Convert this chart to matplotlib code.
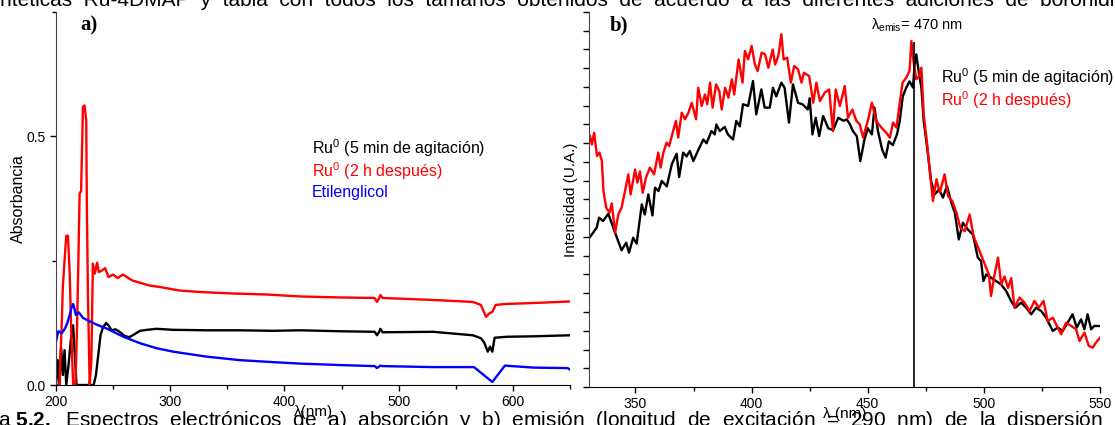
import numpy as np
import matplotlib
matplotlib.use('Agg')
import matplotlib.pyplot as plt
from matplotlib.ticker import MultipleLocator, NullFormatter

plt.rcParams['font.family'] = ['Liberation Sans', 'DejaVu Sans']
plt.rcParams['mathtext.fontset'] = 'custom'
plt.rcParams['mathtext.rm'] = 'Liberation Sans'
plt.rcParams['mathtext.it'] = 'Liberation Sans:italic'
plt.rcParams['mathtext.bf'] = 'Liberation Sans:bold'

# ---- a) absorption spectra ----
abs_wl_black = [200, 201.5, 203, 204.5, 206, 207.5, 209, 211, 213, 215, 216.5, 218, 233, 235, 237,
                239, 241, 244, 246.5, 248.6, 252, 255.7, 260, 264, 268, 273.6, 280, 288, 302, 332,
                361, 390, 414, 450, 479, 481, 483, 484, 486, 530, 565, 572, 575, 578, 580, 582,
                584, 594.6, 620, 650]
abs_black = [0.0, 0.05, 0.0, 0.075, 0.02, 0.07, 0.0, 0.04, 0.09, 0.12, 0.06, 0.0, 0.0, 0.02, 0.06,
             0.10, 0.115, 0.125, 0.118, 0.11, 0.112, 0.107, 0.099, 0.096, 0.101, 0.109, 0.111, 0.113, 0.111, 0.110,
             0.110, 0.109, 0.110, 0.108, 0.107, 0.100, 0.107, 0.113, 0.106, 0.107, 0.100, 0.094, 0.085, 0.067, 0.077, 0.067,
             0.095, 0.097, 0.098, 0.100]

abs_wl_red = [200, 203, 205, 206, 207.5, 209, 210.5, 212, 213.5, 215, 217, 218.5, 219.5, 220.7, 222,
              223.6, 225, 226.5, 227, 228, 229.5, 231, 232.3, 234, 236, 237.5, 240, 243, 246, 250,
              254, 258.6, 267, 282, 291, 308, 326, 355, 384, 414, 450, 479, 481, 483, 484, 486,
              530, 565, 572, 576.5, 579.4, 582, 585, 594, 620, 650]
abs_red = [0.0, 0.0, 0.12, 0.197, 0.25, 0.30, 0.30, 0.225, 0.10, 0.0, 0.0, 0.12, 0.236, 0.385, 0.39,
           0.559, 0.562, 0.532, 0.37, 0.18, 0.0, 0.05, 0.244, 0.224, 0.246, 0.227, 0.23, 0.235, 0.217, 0.222,
           0.215, 0.222, 0.21, 0.20, 0.197, 0.19, 0.187, 0.184, 0.182, 0.178, 0.176, 0.175, 0.167, 0.175, 0.181, 0.175,
           0.171, 0.167, 0.161, 0.137, 0.144, 0.147, 0.161, 0.163, 0.165, 0.168]

abs_wl_blue = [200, 202, 205, 208, 210, 212, 213.5, 215, 216, 217.4, 220, 223.6, 229.5, 236, 244,
               259, 273.6, 288, 302.7, 332, 361, 390, 414, 450, 479, 481, 484, 486, 530, 566,
               582, 593, 618, 648, 650]
abs_blue = [0.087, 0.108, 0.104, 0.114, 0.125, 0.141, 0.155, 0.163, 0.155, 0.141, 0.146, 0.135, 0.128, 0.121, 0.114,
            0.097, 0.084, 0.074, 0.067, 0.057, 0.050, 0.046, 0.043, 0.040, 0.038, 0.034, 0.039, 0.038, 0.036, 0.036,
            0.006, 0.039, 0.035, 0.034, 0.031]

# ---- b) emission spectra (arbitrary units) ----
em_wl_black = [330.4, 333.3, 334.3, 336, 338.3, 341.2, 344, 346, 347.2, 349, 350.5, 352.7, 354, 355.5,
               357.3, 358.4, 359.9, 361.3, 363.5, 365.6, 367.7, 368.8, 370.5, 372, 373.4, 374.9, 377,
               379.2, 380.6, 382.7, 384.1, 384.8, 386.3, 388.4, 389.8, 392, 393.4, 394.9, 396.3, 398.5,
               400.6, 402, 404.2, 405.6, 407.8, 409.2, 410.6, 412.8, 414.2, 416.1, 417.8, 420, 422,
               424.2, 425, 426.2, 427.6, 429.1, 430.8, 433, 435.1, 437.3, 439.5, 441, 442.4, 443.6,
               445.3, 446.8, 448.6, 450, 451.8, 452.9, 454.4, 456.2, 457.7, 459.1, 460.8, 462.6, 463.8,
               465.1, 466.6, 468, 469.5, 470.2, 470.9, 472.1, 473.1, 474.1, 475.6, 477.3, 478.8, 480.7,
               482.4, 484.1, 486, 487.5, 489.2, 491, 493.1, 495.3, 497.4, 498.8, 499.8, 501, 503.1,
               505.3, 507.4, 509.6, 511.7, 513.6, 516.1, 518.2, 520.4, 522.5, 524.7, 526.8, 529.7,
               531.8, 534, 536.1, 538.2, 540, 541.9, 543.3, 544.7, 546.2, 547.6, 550]
em_black = [8.0, 8.5, 9.03, 8.85, 9.24, 8.23, 7.29, 7.7, 7.16, 7.96, 7.65, 9.74, 9.2, 10.27,
            9.15, 10.63, 10.45, 10.99, 10.7, 11.87, 12.44, 11.2, 12.5, 12.3, 12.59, 12.05, 12.63,
            13.2, 13.0, 13.65, 13.47, 14.0, 13.65, 13.87, 13.47, 13.2, 14.19, 13.9, 15.08, 14.99,
            16.32, 14.54, 15.87, 14.9, 14.9, 15.96, 15.5, 16.23, 15.96, 14.1, 16.14, 15.16, 15.07,
            14.8, 15.4, 13.47, 14.36, 13.38, 14.45, 13.8, 13.7, 14.36, 14.2, 14.27, 14.0, 13.65,
            13.38, 12.05, 13.2, 13.8, 13.47, 14.9, 13.65, 12.67, 12.23, 13.1, 12.9, 13.47, 14.2,
            15.5, 15.97, 16.3, 15.97, 17.2, 17.74, 16.7, 15.97, 14.19, 12.76, 10.99, 10.27, 10.54,
            10.1, 10.72, 9.83, 9.3, 7.87, 8.76, 8.4, 8.13, 6.9, 6.72, 5.65, 6.0, 5.83,
            5.65, 5.47, 5.12, 4.59, 4.23, 4.5, 4.23, 3.88, 4.23, 4.05, 3.7, 2.99,
            3.17, 2.99, 3.43, 3.88, 3.17, 3.61, 3.08, 3.88, 3.08, 3.26, 3.25]

em_wl_red = [330.4, 331.2, 332.2, 333.4, 334.5, 335.5, 336.2, 337.4, 338.8, 339.8, 341.2, 342.6, 344,
             345.5, 346.9, 347.9, 349.8, 350.8, 351.9, 353.1, 354.5, 356.2, 358, 359.8, 360.8, 362,
             363.4, 364.5, 366.2, 367.4, 368.4, 369.9, 371.3, 372.8, 374.2, 376.1, 377, 378.5, 379.9,
             380.9, 382.1, 383.2, 384.7, 386.1, 387.1, 388.6, 390, 391.5, 392.5, 394.4, 396.1, 397.1,
             398.5, 400, 401.4, 402.6, 404.3, 405.8, 407.2, 409.1, 410.1, 411.5, 412.8, 413.8, 415.3,
             416.9, 418.3, 420, 421.5, 422.5, 424.8, 426.5, 427.9, 429.4, 431.5, 433.4, 435, 436.2,
             438, 440.1, 441.5, 443.4, 445.1, 446.6, 448, 450.2, 451.8, 453.7, 455.9, 458, 459.5,
             460.9, 462.4, 463.5, 465, 466.6, 468, 468.8, 469.7, 470.9, 472.1, 473.1, 474.1, 475.6,
             476.7, 478.1, 479.6, 481, 483.1, 484.6, 486.4, 488.2, 489.9, 491.8, 493.9, 495.6, 498.2,
             500.8, 502.2, 503.1, 504.6, 506.1, 507.5, 508.9, 510.4, 511.8, 513.2, 515.4, 517.5, 519.7,
             521.8, 523.7, 525.7, 527.5, 529.7, 531.8, 533.3, 535.4, 537.6, 539.7, 541.2, 543.3, 545.2,
             546.9, 548.3, 550]
em_red = [13.39, 12.94, 13.56, 12.32, 12.5, 12.05, 10.45, 9.56, 9.3, 9.79, 8.23, 9.2, 9.56,
          10.45, 11.34, 10.27, 11.6, 10.9, 11.5, 10.36, 11.16, 11.7, 11.34, 12.5, 11.7, 12.5,
          13.03, 12.85, 13.65, 14.19, 13.3, 14.63, 14.28, 14.63, 15.16, 14.28, 15.96, 14.99, 15.6,
          15.08, 16.23, 14.9, 16.14, 15.78, 14.8, 15.96, 15.43, 16.41, 15.6, 17.47, 16.23, 17.92,
          17.47, 18.19, 17.2, 16.85, 17.83, 17.74, 17.03, 18.0, 17.2, 17.65, 18.81, 17.47, 17.56,
          16.23, 17.12, 16.94, 16.23, 16.76, 16.58, 15.16, 16.23, 15.25, 15.7, 15.87, 13.65, 15.87,
          14.99, 16.05, 14.36, 14.8, 14.19, 14.0, 13.3, 14.27, 15.16, 14.19, 13.83, 13.56, 13.3,
          14.1, 13.83, 14.9, 16.23, 16.5, 16.85, 18.45, 17.38, 16.41, 16.58, 17.03, 14.54, 12.94,
          11.52, 9.92, 11.08, 10.36, 11.34, 10.18, 9.92, 9.3, 8.49, 8.31, 9.2, 8.04, 7.23,
          6.43, 5.99, 4.85, 5.99, 6.9, 5.47, 5.9, 5.28, 5.81, 4.23, 4.77, 4.5, 4.05,
          4.59, 4.23, 4.59, 3.52, 3.7, 3.17, 2.81, 3.43, 3.26, 3.08, 2.45, 2.9, 2.19,
          2.1, 2.37, 2.63]

EXC_LINE_NM = 470
EXC_LINE_TOP = 18.4

LABEL_BLACK = r'Ru$^{\mathregular{0}}$ (5 min de agitación)'
LABEL_RED = r'Ru$^{\mathregular{0}}$ (2 h después)'
LABEL_BLUE = 'Etilenglicol'
# justified document lines, cropped by the figure edges
TOP_TEXT = '  '.join(('ntéticas Ru-4DMAP y tabla con todos los tamaños obtenidos de acuerdo a las '
                      'diferentes adiciones de borohidruro').split(' '))
CAPTION = r'a $\mathbf{5.2.}$  ' + '  '.join(('Espectros electrónicos de a) absorción y b) emisión '
                                             '(longitud de excitación = 290 nm) de la dispersión').split(' '))


def style_axes(ax):
    for side in ('top', 'right'):
        ax.spines[side].set_visible(False)
    ax.spines['left'].set_color('#444444')
    ax.spines['bottom'].set_color('black')
    ax.tick_params(which='both', direction='out', labelsize=10, width=1)
    ax.tick_params(which='major', length=4)
    ax.tick_params(which='minor', length=3)


def main():
    fig = plt.figure(figsize=(11.15, 4.25), dpi=100)

    fig.text(0.0, 1 - 6 / 425, TOP_TEXT, fontsize=15, va='baseline', ha='left')
    fig.text(-0.002, -1 / 425, CAPTION, fontsize=15, va='baseline', ha='left')

    ax1 = fig.add_axes([0.0502, 0.0941, 0.461, 0.8777])
    ax1.plot(abs_wl_black, abs_black, color='black', lw=1.7)
    ax1.plot(abs_wl_red, abs_red, color='red', lw=1.7)
    ax1.plot(abs_wl_blue, abs_blue, color='blue', lw=1.7)
    ax1.set_xlim(200, 650)
    ax1.set_ylim(0, 0.75)
    ax1.xaxis.set_major_locator(MultipleLocator(100))
    ax1.xaxis.set_minor_locator(MultipleLocator(50))
    ax1.yaxis.set_major_locator(MultipleLocator(0.5))
    ax1.yaxis.set_minor_locator(MultipleLocator(0.25))
    ax1.yaxis.set_major_formatter(plt.FuncFormatter(lambda v, p: f'{v:.1f}'))
    style_axes(ax1)
    ax1.set_xlabel('λ(nm)', fontsize=11, labelpad=-3)
    ax1.set_ylabel('Absorbancia', fontsize=11.5)
    ax1.yaxis.set_label_coords(-0.058, 0.5)
    ax1.text(0.047, 0.965, 'a)', transform=ax1.transAxes, fontsize=15, fontweight='bold',
             family='Liberation Serif', va='center')
    ax1.text(423.8, 0.476, LABEL_BLACK, color='black', fontsize=11.5, va='center')
    ax1.text(423.8, 0.430, LABEL_RED, color='red', fontsize=11.5, va='center')
    ax1.text(423.8, 0.3875, LABEL_BLUE, color='blue', fontsize=11.5, va='center')

    ax2 = fig.add_axes([0.5283, 0.0894, 0.4582, 0.8824])
    ax2.plot(em_wl_black, em_black, color='black', lw=1.7)
    ax2.plot(em_wl_red, em_red, color='red', lw=1.7)
    ax2.vlines(EXC_LINE_NM, 0, EXC_LINE_TOP, color='black', lw=1.2)
    ax2.set_xlim(330, 550)
    ax2.set_ylim(0, 20)
    ax2.xaxis.set_major_locator(MultipleLocator(50))
    ax2.xaxis.set_minor_locator(MultipleLocator(25))
    ax2.yaxis.set_major_locator(MultipleLocator(1))
    ax2.yaxis.set_major_formatter(NullFormatter())
    style_axes(ax2)
    ax2.set_xlabel('λ (nm)', fontsize=11, labelpad=-3)
    ax2.set_ylabel('Intensidad (U.A.)', fontsize=11)
    ax2.yaxis.set_label_coords(-0.0215, 0.5)
    ax2.text(0.04, 0.965, 'b)', transform=ax2.transAxes, fontsize=15, fontweight='bold',
             family='Liberation Serif', va='center')
    ax2.text(451.2, 19.3, r'λ$_{\mathregular{emis}}$= 470 nm', fontsize=10.5, va='center')
    ax2.text(481.6, 16.55, LABEL_BLACK, color='black', fontsize=11.5, va='center')
    ax2.text(481.6, 15.3, LABEL_RED, color='red', fontsize=11.5, va='center')

    fig.savefig('out.png', dpi=100)
    plt.close(fig)


if __name__ == '__main__':
    main()
